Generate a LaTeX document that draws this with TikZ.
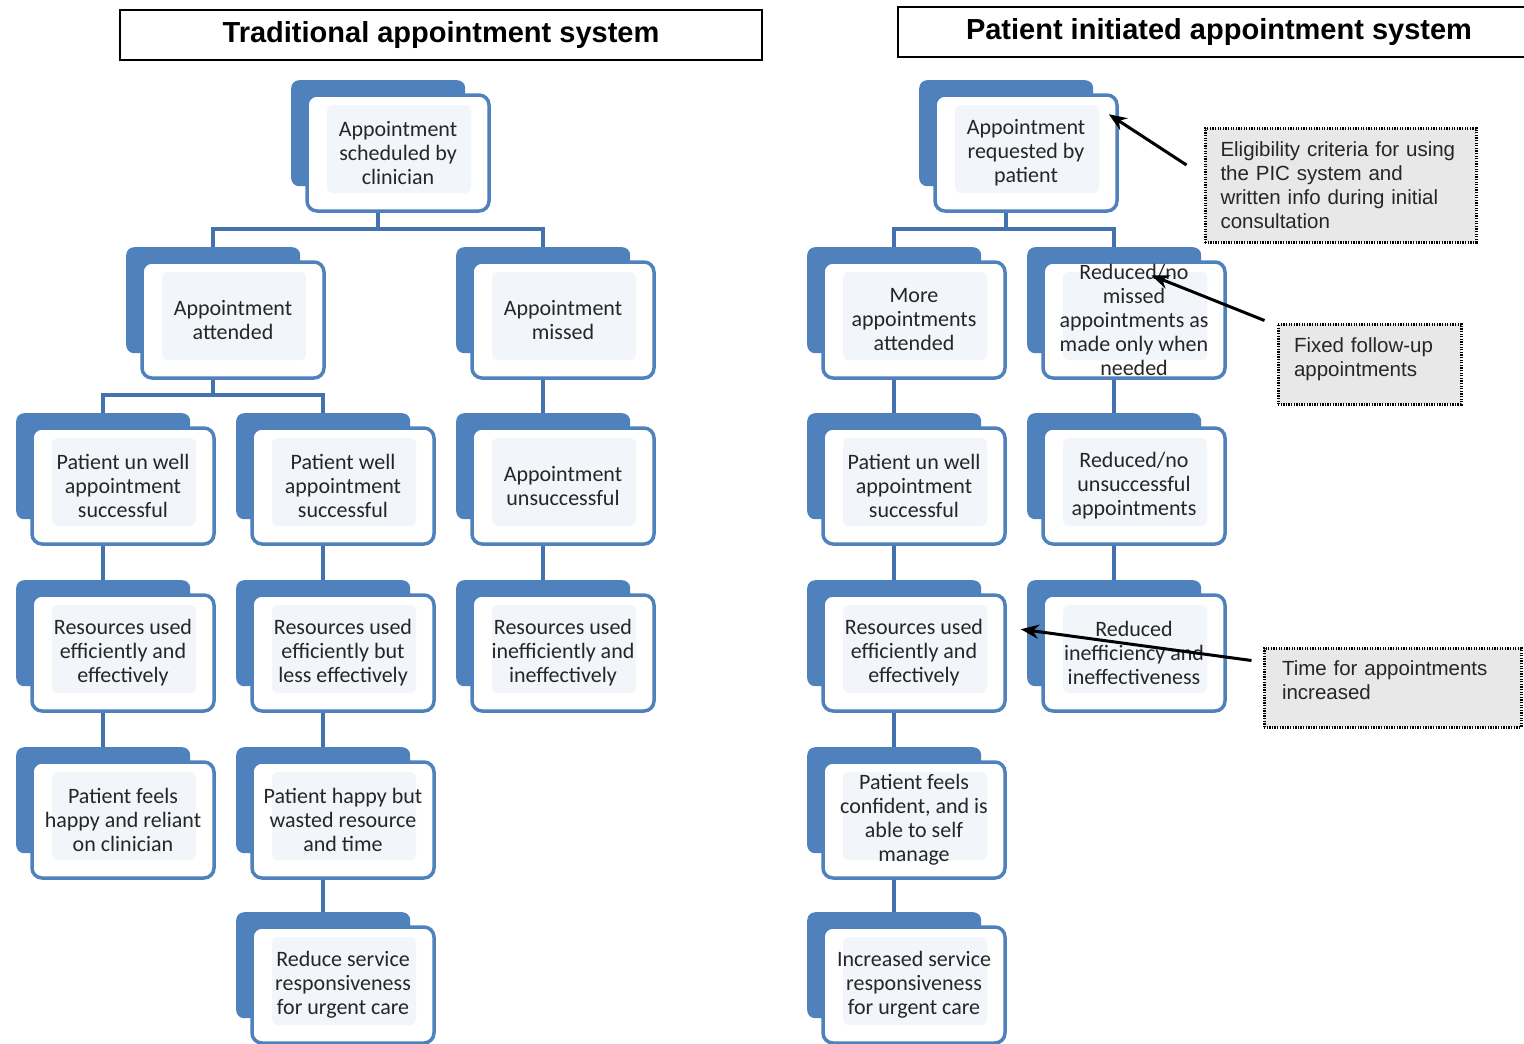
\documentclass[tikz,border=0pt]{standalone}
\usepackage{fontspec}
\setmainfont{Carlito}
\newfontfamily\arialf{Liberation Sans}
\usetikzlibrary{calc,arrows.meta,backgrounds}
\definecolor{pblue}{HTML}{4F81BD}
\definecolor{pconn}{HTML}{4373AE}
\definecolor{pinner}{HTML}{F2F5FA}
\definecolor{ptext}{HTML}{262626}
\definecolor{cfill}{HTML}{E8E8E8}
\tikzset{
  backbox/.style={rectangle, rounded corners=8pt, fill=pblue, minimum width=174pt, minimum height=106pt, inner sep=0pt, anchor=north west},
  frontbox/.style={rectangle, rounded corners=10pt, draw=pblue, line width=3.5pt, fill=white,
    minimum width=182pt, minimum height=116pt, inner sep=0pt, align=center, text=ptext,
    font=\fontsize{22}{24}\selectfont,
    path picture={\fill[pinner, rounded corners=6pt] ($(path picture bounding box.north west)+(20,10)$) rectangle ($(path picture bounding box.south east)+(-18,-18)$);}},
  conn/.style={draw=pconn, line width=4.5pt},
  titlebox/.style={rectangle, draw=black, line width=1.8pt, fill=white, font=\arialf\bfseries\fontsize{29}{34}\selectfont, inner sep=0pt},
  callout/.style={rectangle, draw=black, line width=3pt, dash pattern=on 1.3pt off 1.3pt, fill=cfill, align=left, text=ptext, font=\arialf\fontsize{20.5}{24}\selectfont, inner ysep=0pt},
  pointer/.style={draw=black, line width=3pt, -{Stealth[length=18pt,width=14pt]}}
}
\newcommand\pbx[4]{%
  \node[backbox] (#1b) at (#2-16,#3-15) {};
  \node[frontbox] (#1) at (#2+91,#3+58) {#4};}
\begin{document}
\begin{tikzpicture}[x=1pt,y=-1pt]
\useasboundingbox (0,0) rectangle (1524,1044);
\clip (0,0) rectangle (1524,1044);
% titles
\node[titlebox, minimum width=642pt, minimum height=50pt] (t1) at (441,35) {Traditional appointment system};
\node[titlebox, minimum width=642pt, minimum height=50pt] (t2box) at (1219,32) {};
\node[font=\arialf\bfseries\fontsize{29}{34}\selectfont, inner sep=0pt] (t2) at (1219,32) {Patient initiated appointment system};
% left panel
\pbx{L0}{307}{95}{Appointment\\scheduled by\\clinician}
\pbx{L1}{142}{262}{Appointment\\attended}
\pbx{C1}{472}{262}{Appointment\\missed}
\pbx{A2}{32}{428}{Patient un well\\appointment\\successful}
\pbx{B2}{252}{428}{Patient well\\appointment\\successful}
\pbx{C2}{472}{428}{Appointment\\unsuccessful}
\pbx{A3}{32}{595}{Resources used\\efficiently and\\effectively}
\pbx{B3}{252}{595}{Resources used\\efficiently but\\less effectively}
\pbx{C3}{472}{595}{Resources used\\inefficiently and\\ineffectively}
\pbx{A4}{32}{762}{Patient feels\\happy and reliant\\on clinician}
\pbx{B4}{252}{762}{Patient happy but\\wasted resource\\and time}
\pbx{B5}{252}{927}{Reduce service\\responsiveness\\for urgent care}
% right panel
\pbx{R0}{935}{95}{Appointment\\requested by\\patient}
\pbx{D1}{823}{262}{More\\appointments\\attended}
\pbx{E1}{1043}{262}{Reduced/no\\missed\\appointments as\\made only when\\needed}
\pbx{D2}{823}{428}{Patient un well\\appointment\\successful}
\pbx{E2}{1043}{428}{Reduced/no\\unsuccessful\\appointments}
\pbx{D3}{823}{595}{Resources used\\efficiently and\\effectively}
\pbx{E3}{1043}{595}{Reduced\\inefficiency and\\ineffectiveness}
\pbx{D4}{823}{762}{Patient feels\\confident, and is\\able to self\\manage}
\pbx{D5}{823}{927}{Increased service\\responsiveness\\for urgent care}
% connectors
\begin{pgfonlayer}{background}
\coordinate (j0) at ($(L0.south -| L0b.south)+(0,16)$);
\draw[conn] (L0.south -| L0b.south) -- (j0);
\draw[conn] (L1b.north) |- (j0) -| (C1b.north);
\coordinate (j1) at ($(L1.south -| L1b.south)+(0,15)$);
\draw[conn] (L1.south -| L1b.south) -- (j1);
\draw[conn] (A2b.north) |- (j1) -| (B2b.north);
\draw[conn] (C1.south -| C1b.south) -- (C2b.north);
\draw[conn] (A2.south -| A2b.south) -- (A3b.north);
\draw[conn] (B2.south -| B2b.south) -- (B3b.north);
\draw[conn] (C2.south -| C2b.south) -- (C3b.north);
\draw[conn] (A3.south -| A3b.south) -- (A4b.north);
\draw[conn] (B3.south -| B3b.south) -- (B4b.north);
\draw[conn] (B4.south -| B4b.south) -- (B5b.north);
\coordinate (j2) at ($(R0.south -| R0b.south)+(0,16)$);
\draw[conn] (R0.south -| R0b.south) -- (j2);
\draw[conn] (D1b.north) |- (j2) -| (E1b.north);
\draw[conn] (D1.south -| D1b.south) -- (D2b.north);
\draw[conn] (D2.south -| D2b.south) -- (D3b.north);
\draw[conn] (D3.south -| D3b.south) -- (D4b.north);
\draw[conn] (D4.south -| D4b.south) -- (D5b.north);
\draw[conn] (E1.south -| E1b.south) -- (E2b.north);
\draw[conn] (E2.south -| E2b.south) -- (E3b.north);
\end{pgfonlayer}
% callouts
\node[callout, text width=240pt, inner xsep=15.5pt, minimum height=114pt] (c1) at (1340.5,185) {Eligibility criteria for using\\the PIC system and\\written info during initial\\consultation};
\node[callout, text width=151pt, inner xsep=16pt, minimum height=80pt] (c2) at (1369.5,364) {Fixed follow-up\\appointments\\[-10pt]\mbox{}};
\node[callout, text width=221pt, inner xsep=18pt, minimum height=79pt] (c3) at (1392.5,687.5) {Time for appointments\\increased\\[-10pt]\mbox{}};
\coordinate (a1s) at ($(c1.west)+(-17,-20)$);
\coordinate (a1e) at ($(R0.north east)+(-10,21)$);
\coordinate (a2s) at ($(c2.north west)+(-12,-2)$);
\coordinate (a2e) at ($(E1.north west)+(110,15)$);
\coordinate (a3s) at ($(c3.west)+(-11,-27)$);
\coordinate (a3e) at ($(D3.north east)+(14,36)$);
\draw[pointer] (a1s) -- (a1e);
\draw[pointer] (a2s) -- (a2e);
\draw[pointer] (a3s) -- (a3e);
\end{tikzpicture}
\end{document}
